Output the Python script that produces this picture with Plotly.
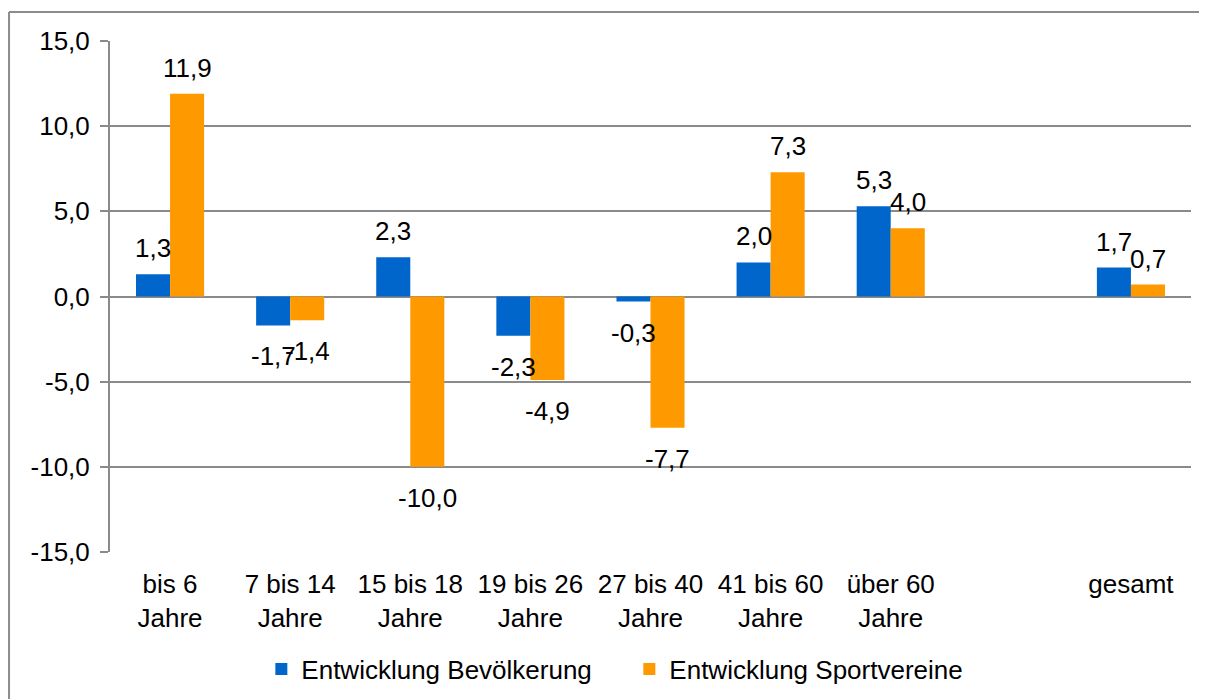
import plotly.graph_objects as go

categories = ["bis 6<br>Jahre", "7 bis 14<br>Jahre", "15 bis 18<br>Jahre", "19 bis 26<br>Jahre",
              "27 bis 40<br>Jahre", "41 bis 60<br>Jahre", "über 60<br>Jahre", " ", "gesamt"]
bevoelkerung = [1.3, -1.7, 2.3, -2.3, -0.3, 2.0, 5.3, None, 1.7]
sportvereine = [11.9, -1.4, -10.0, -4.9, -7.7, 7.3, 4.0, None, 0.7]
series_names = ["Entwicklung Bevölkerung", "Entwicklung Sportvereine"]
colors = ["#0066CC", "#FF9900"]
y_ticks = [-15, -10, -5, 0, 5, 10, 15]
y_ticktext = ["-15,0", "-10,0", "-5,0", "0,0", "5,0", "10,0", "15,0"]

FONT = "Liberation Sans, Arial, sans-serif"
GRID = "#8a8a8a"

fig = go.Figure()
for name, vals, col in zip(series_names, [bevoelkerung, sportvereine], colors):
    fig.add_trace(go.Bar(x=categories, y=vals, name=name, marker_color=col,
                         marker_line_width=0))

# data labels
annotations = []
for k, vals in enumerate([bevoelkerung, sportvereine]):
    xs = -17 if k == 0 else 17
    for c, v in zip(categories, vals):
        if v is None:
            continue
        annotations.append(dict(
            x=c, y=v, xref="x", yref="y", showarrow=False,
            text=f"{v:.1f}".replace(".", ","),
            xshift=xs, yshift=26 if v > 0 else -31,
            xanchor="center", yanchor="middle",
            font=dict(family=FONT, size=26, color="#000000")))

fig.update_layout(
    width=1199, height=691,
    margin=dict(l=102, r=16, t=33, b=147, autoexpand=False),
    paper_bgcolor="white", plot_bgcolor="white",
    separators=",.",
    barmode="group", bargap=0.433, bargroupgap=0,
    font=dict(family=FONT, size=26, color="#000000"),
    showlegend=True,
    legend=dict(orientation="h", x=0.14, xanchor="left",
                yref="container", y=0.0434, yanchor="middle",
                font=dict(family=FONT, size=26, color="#000000"),
                entrywidth=323, entrywidthmode="pixels", itemclick=False),
    annotations=annotations,
    xaxis=dict(type="category", categoryorder="array", categoryarray=categories,
               range=[-0.5, 8.5], showgrid=False, zeroline=False, showline=False,
               ticks="", ticklabelstandoff=14, automargin=False,
               tickfont=dict(family=FONT, size=26, color="#000000")),
    xaxis2=dict(overlaying="x", anchor="free", position=0.5, range=[-0.5, 8.5],
                tickmode="array", tickvals=[i - 0.5 for i in range(10)],
                ticks="outside", ticklen=8, tickwidth=2, tickcolor=GRID,
                showticklabels=False, showgrid=False, zeroline=False, showline=False),
    yaxis=dict(range=[-15, 15], tickmode="array", tickvals=y_ticks, ticktext=y_ticktext,
               showgrid=True, gridcolor=GRID, gridwidth=2,
               zeroline=True, zerolinecolor=GRID, zerolinewidth=2,
               showline=True, linecolor=GRID, linewidth=2,
               ticks="outside", ticklen=8, tickwidth=2, tickcolor=GRID,
               ticklabelstandoff=5, automargin=False,
               tickfont=dict(family=FONT, size=26, color="#000000")),
    shapes=[
        dict(type="line", xref="paper", yref="paper", x0=-0.0934, x1=-0.0934,
             y0=1.0568, y1=-0.32, line=dict(color="#8c8c8c", width=2)),
        dict(type="line", xref="paper", yref="paper", x0=-0.0934, x1=1.02,
             y0=1.0568, y1=1.0568, line=dict(color="#8c8c8c", width=2)),
    ],
)

fig.write_html("out.html")
